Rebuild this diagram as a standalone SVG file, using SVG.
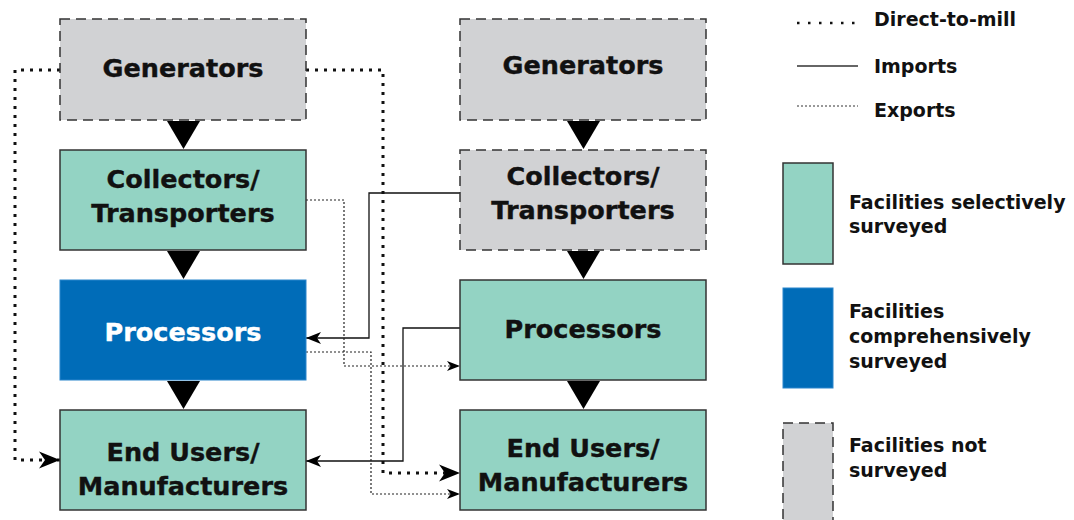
<svg xmlns="http://www.w3.org/2000/svg" width="1074" height="520" viewBox="0 0 1074 520">
<style>
  .sel{fill:#93d3c3;stroke:#333;stroke-width:1.5}
  .comp{fill:#006cb8;stroke:#2a85cc;stroke-width:1}
  .not{fill:#d1d2d4;stroke:#333;stroke-width:1.5;stroke-dasharray:10 6}
  .lbl{font-family:"DejaVu Sans",sans-serif;font-weight:bold;font-size:25.5px;fill:#111;stroke:#111;stroke-width:0.4;text-anchor:middle}
  .wht{fill:#fff;stroke:#fff}
  .leg{font-family:"DejaVu Sans",sans-serif;font-weight:bold;font-size:19px;fill:#111}
  .mill{fill:none;stroke:#111;stroke-width:3;stroke-dasharray:3 6}
  .imp{fill:none;stroke:#111;stroke-width:1.3}
  .exp{fill:none;stroke:#222;stroke-width:1.2;stroke-dasharray:2 2}
  .tri{fill:#000}
</style>
<defs>
  <marker id="aMill" markerUnits="userSpaceOnUse" markerWidth="22" markerHeight="20" viewBox="0 -10 22 20" refX="21" refY="0" orient="auto">
    <path d="M0,-8.5 L21,0 L0,8.5 L6,0 Z" fill="#000"/>
  </marker>
  <marker id="aImp" markerUnits="userSpaceOnUse" markerWidth="16" markerHeight="14" viewBox="0 -7 16 14" refX="15" refY="0" orient="auto">
    <path d="M0,-6 L15,0 L0,6 L4,0 Z" fill="#000"/>
  </marker>
  <marker id="aExp" markerUnits="userSpaceOnUse" markerWidth="14" markerHeight="12" viewBox="0 -6 14 12" refX="13" refY="0" orient="auto">
    <path d="M0,-5 L13,0 L0,5 L3.5,0 Z" fill="#000"/>
  </marker>
</defs>

<g id="connectors">
  <path class="mill" d="M60,70 H15 V460 H60" marker-end="url(#aMill)"/>
  <path class="mill" d="M306,70 H383 V473 H460" marker-end="url(#aMill)"/>
  <path class="imp" d="M460,193 H369 V338 H306" marker-end="url(#aImp)"/>
  <path class="imp" d="M460,328 H403 V461 H306" marker-end="url(#aImp)"/>
  <path class="exp" d="M306,200 H344 V366 H460" marker-end="url(#aExp)"/>
  <path class="exp" d="M306,352 H371 V494 H460" marker-end="url(#aExp)"/>
  <path class="tri" d="M167,121 H200 L183.5,149 Z"/>
  <path class="tri" d="M167,251 H200 L183.5,279 Z"/>
  <path class="tri" d="M167,381 H200 L183.5,409 Z"/>
  <path class="tri" d="M567,121 H600 L583.5,149 Z"/>
  <path class="tri" d="M567,251 H600 L583.5,279 Z"/>
  <path class="tri" d="M567,381 H600 L583.5,409 Z"/>
</g>

<g id="l-generators">
  <rect class="not" x="60" y="19" width="246" height="101"/>
  <text class="lbl" x="183" y="77">Generators</text>
</g>
<g id="l-collectors">
  <rect class="sel" x="60" y="150" width="246" height="100"/>
  <text class="lbl" x="183" y="188">Collectors/</text>
  <text class="lbl" x="183" y="222">Transporters</text>
</g>
<g id="l-processors">
  <rect class="comp" x="60" y="280" width="246" height="100"/>
  <text class="lbl wht" x="183" y="341">Processors</text>
</g>
<g id="l-endusers">
  <rect class="sel" x="60" y="410" width="246" height="100"/>
  <text class="lbl" x="183" y="461">End Users/</text>
  <text class="lbl" x="183" y="495">Manufacturers</text>
</g>

<g id="r-generators">
  <rect class="not" x="460" y="19" width="246" height="101"/>
  <text class="lbl" x="583" y="74">Generators</text>
</g>
<g id="r-collectors">
  <rect class="not" x="460" y="150" width="246" height="100"/>
  <text class="lbl" x="583" y="185">Collectors/</text>
  <text class="lbl" x="583" y="219">Transporters</text>
</g>
<g id="r-processors">
  <rect class="sel" x="460" y="280" width="246" height="100"/>
  <text class="lbl" x="583" y="338">Processors</text>
</g>
<g id="r-endusers">
  <rect class="sel" x="460" y="410" width="246" height="100"/>
  <text class="lbl" x="583" y="457">End Users/</text>
  <text class="lbl" x="583" y="491">Manufacturers</text>
</g>

<g id="legend">
  <line x1="797" y1="23" x2="856" y2="23" stroke="#111" stroke-width="2.5" stroke-dasharray="2.5 8.5"/>
  <text class="leg" x="874" y="26">Direct-to-mill</text>
  <line x1="797" y1="66" x2="858" y2="66" stroke="#333" stroke-width="1.5"/>
  <text class="leg" x="874" y="73">Imports</text>
  <line x1="797" y1="106" x2="858" y2="106" stroke="#333" stroke-width="1" stroke-dasharray="2 2"/>
  <text class="leg" x="874" y="117">Exports</text>
  <rect class="sel" x="783" y="163" width="50" height="101"/>
  <text class="leg" x="849" y="209">Facilities selectively</text>
  <text class="leg" x="849" y="233">surveyed</text>
  <rect class="comp" x="783" y="288" width="50" height="100"/>
  <text class="leg" x="849" y="318">Facilities</text>
  <text class="leg" x="849" y="343">comprehensively</text>
  <text class="leg" x="849" y="368">surveyed</text>
  <rect class="not" x="783" y="423" width="50" height="110"/>
  <text class="leg" x="849" y="452">Facilities not</text>
  <text class="leg" x="849" y="477">surveyed</text>
</g>
</svg>
